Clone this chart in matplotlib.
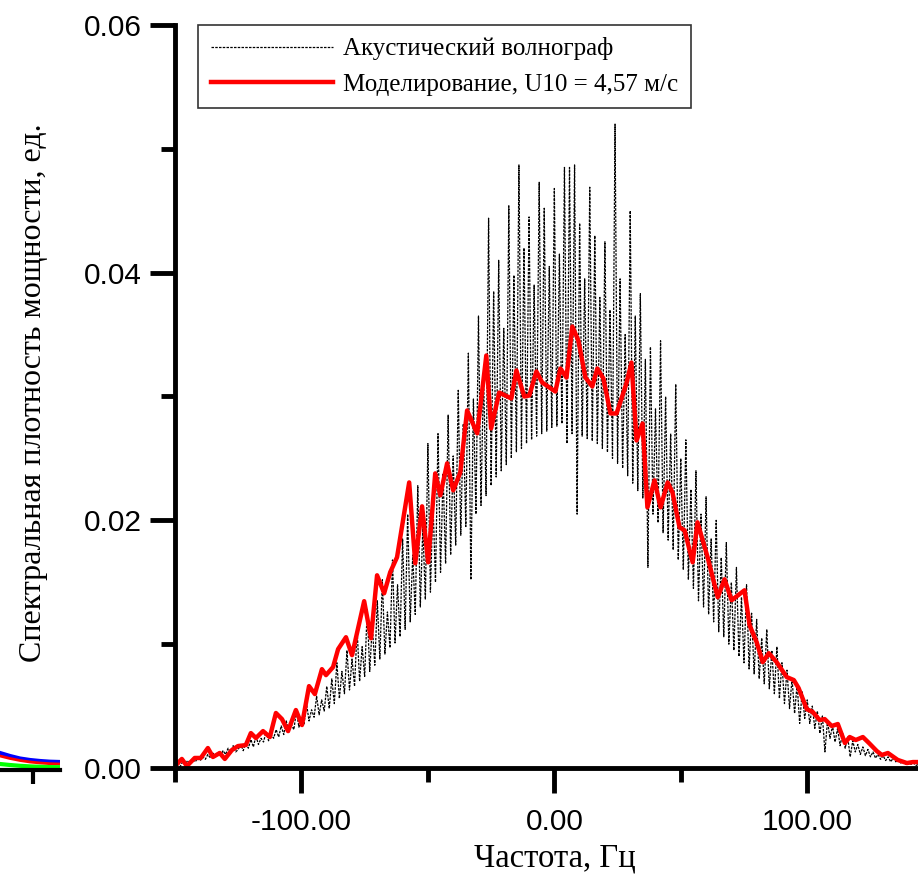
import numpy as np
import matplotlib
matplotlib.use("Agg")
import matplotlib.pyplot as plt
from matplotlib.ticker import FixedLocator

# Modelled spectrum (red line)
model_freq = [-150, -147.3, -145.3, -142.2, -139.8, -137.0, -135.0, -132.3, -130.3, -127.5,
              -125.1, -122.0, -120.0, -118.0, -115.2, -112.5, -110.1, -107.7, -105.3, -102.2,
              -99.8, -97.0, -94.7, -91.9, -90.3, -87.5, -85.5, -82.4, -80.0, -75.2,
              -72.5, -70.1, -67.3, -64.9, -62.2, -57.4, -55.0, -52.3, -49.9, -47.1,
              -45.1, -42.4, -40.0, -37.2, -34.5, -30.5, -26.9, -25.0, -21.8, -17.0,
              -15.0, -11.9, -9.9, -7.1, -4.8, 0.4, 2.4, 4.8, 7.1, 9.5,
              12.3, 15.0, 17.0, 19.4, 22.2, 24.6, 28.5, 30.5, 32.5, 34.9,
              36.8, 39.6, 42.0, 44.8, 46.7, 49.5, 51.5, 54.7, 56.6, 60.6,
              64.6, 67.3, 70.1, 75.2, 77.2, 80.0, 82.4, 84.8, 87.9, 91.9,
              94.7, 96.6, 99.8, 102.2, 104.9, 106.9, 109.7, 112.1, 114.9, 116.8,
              119.2, 122.0, 124.4, 127.5, 129.5, 131.9, 135.8, 139.4, 141.8, 143.8]
model_psd = [0.00016, 0.00073, 0.00016, 0.00081, 0.00081, 0.00161, 0.00089, 0.00121, 0.00073, 0.00145,
             0.00177, 0.00185, 0.00282, 0.00242, 0.00298, 0.00250, 0.00444, 0.00395, 0.00298, 0.00468,
             0.00347, 0.00661, 0.00597, 0.00798, 0.00750, 0.00815, 0.00960, 0.01056, 0.00911, 0.01347,
             0.01048, 0.01556, 0.01411, 0.01581, 0.01702, 0.02306, 0.01653, 0.02113, 0.01661, 0.02379,
             0.02202, 0.02460, 0.02242, 0.02387, 0.02887, 0.02702, 0.03331, 0.02742, 0.03032, 0.02984,
             0.03210, 0.03000, 0.03008, 0.03202, 0.03113, 0.03040, 0.03226, 0.03153, 0.03565, 0.03452,
             0.03153, 0.03081, 0.03226, 0.03145, 0.02863, 0.02863, 0.03105, 0.03274, 0.02645, 0.02782,
             0.02105, 0.02323, 0.02105, 0.02306, 0.02226, 0.01944, 0.01919, 0.01661, 0.01984, 0.01702,
             0.01379, 0.01524, 0.01355, 0.01435, 0.01153, 0.01016, 0.00855, 0.00927, 0.00855, 0.00734,
             0.00710, 0.00645, 0.00476, 0.00452, 0.00387, 0.00395, 0.00339, 0.00355, 0.00202, 0.00250,
             0.00226, 0.00250, 0.00202, 0.00137, 0.00105, 0.00121, 0.00065, 0.00040, 0.00048, 0.00048]

# Acoustic wave gauge spectrum (black dotted), 1 Hz step from -150 to 144
gauge_freq = np.arange(-150, 145)
gauge_psd = [
    0.0002, 0.0004, 0.0001, 0.0005, 0.0003, 0.0006, 0.0004, 0.0007, 0.0005, 0.0008,
    0.0006, 0.0009, 0.0007, 0.0011, 0.0008, 0.0012, 0.0009, 0.0013, 0.0010, 0.0014,
    0.0011, 0.0016, 0.0012, 0.0018, 0.0013, 0.0015, 0.0019, 0.0014, 0.0021, 0.0016,
    0.0023, 0.0017, 0.0026, 0.0019, 0.0024, 0.0021, 0.0029, 0.0022, 0.0027, 0.0024,
    0.0031, 0.0025, 0.0034, 0.0027, 0.0038, 0.0029, 0.0035, 0.0031, 0.0046, 0.0033,
    0.0041, 0.0035, 0.0052, 0.0038, 0.0047, 0.0041, 0.0058, 0.0043, 0.0055, 0.0046,
    0.0066, 0.0048, 0.0072, 0.0052, 0.0085, 0.0056, 0.0078, 0.0060, 0.0095, 0.0063,
    0.0088, 0.0066, 0.0112, 0.0070, 0.0098, 0.0074, 0.0128, 0.0078, 0.0115, 0.0083,
    0.0135, 0.0088, 0.0152, 0.0092, 0.0126, 0.0097, 0.0168, 0.0101, 0.0148, 0.0106,
    0.0185, 0.0112, 0.0205, 0.0118, 0.0172, 0.0124, 0.0228, 0.0130, 0.0195, 0.0136,
    0.0262, 0.0142, 0.0215, 0.0150, 0.0270, 0.0158, 0.0238, 0.0165, 0.0285, 0.0172,
    0.0252, 0.0180, 0.0305, 0.0188, 0.0278, 0.0195, 0.0335, 0.0152, 0.0298, 0.0205,
    0.0365, 0.0212, 0.0318, 0.0220, 0.0444, 0.0228, 0.0385, 0.0235, 0.0410, 0.0240,
    0.0355, 0.0245, 0.0454, 0.0250, 0.0398, 0.0255, 0.0487, 0.0258, 0.0420, 0.0262,
    0.0445, 0.0265, 0.0390, 0.0268, 0.0473, 0.0270, 0.0452, 0.0272, 0.0405, 0.0275,
    0.0468, 0.0276, 0.0415, 0.0278, 0.0485, 0.0262, 0.0485, 0.0270, 0.0487, 0.0205,
    0.0440, 0.0268, 0.0395, 0.0266, 0.0469, 0.0264, 0.0430, 0.0262, 0.0380, 0.0258,
    0.0425, 0.0255, 0.0370, 0.0250, 0.0520, 0.0246, 0.0395, 0.0242, 0.0350, 0.0236,
    0.0450, 0.0230, 0.0365, 0.0224, 0.0383, 0.0218, 0.0330, 0.0162, 0.0340, 0.0205,
    0.0290, 0.0198, 0.0345, 0.0190, 0.0300, 0.0184, 0.0270, 0.0176, 0.0310, 0.0168,
    0.0250, 0.0160, 0.0265, 0.0152, 0.0225, 0.0145, 0.0240, 0.0135, 0.0205, 0.0130,
    0.0219, 0.0124, 0.0185, 0.0118, 0.0200, 0.0110, 0.0170, 0.0106, 0.0182, 0.0100,
    0.0150, 0.0095, 0.0162, 0.0090, 0.0138, 0.0085, 0.0148, 0.0080, 0.0125, 0.0076,
    0.0120, 0.0072, 0.0105, 0.0068, 0.0112, 0.0064, 0.0095, 0.0060, 0.0098, 0.0056,
    0.0085, 0.0052, 0.0079, 0.0048, 0.0072, 0.0044, 0.0068, 0.0036, 0.0062, 0.0040,
    0.0055, 0.0036, 0.0050, 0.0032, 0.0046, 0.0028, 0.0042, 0.0013, 0.0038, 0.0024,
    0.0034, 0.0021, 0.0032, 0.0018, 0.0028, 0.0016, 0.0025, 0.0009, 0.0022, 0.0013,
    0.0019, 0.0011, 0.0017, 0.0010, 0.0015, 0.0009, 0.0013, 0.0008, 0.0011, 0.0007,
    0.0010, 0.0006, 0.0009, 0.0005, 0.0008, 0.0005, 0.0007, 0.0004, 0.0006, 0.0003,
    0.0005, 0.0003, 0.0004, 0.0002, 0.0003]

x_major = [-100, 0, 100]
x_minor = [-150, -50, 50]
x_labels = ["-100.00", "0.00", "100.00"]
y_major = [0.0, 0.02, 0.04, 0.06]
y_minor = [0.01, 0.03, 0.05]
y_labels = ["0.00", "0.02", "0.04", "0.06"]

label_gauge = "Акустический волнограф"
label_model = "Моделирование, U10 = 4,57 м/с"

# cropped fragment of a neighbouring chart at the left edge
frag_x = [0, 10, 20, 30, 40, 50, 60]
frag_blue = [17, 14, 11.5, 10, 9, 8.3, 8]
frag_red = [14, 11.5, 9.5, 8, 7, 6.3, 6]
frag_green = [6, 5, 4.2, 3.6, 3.2, 2.9, 2.8]

serif = "Liberation Serif"
sans = "Liberation Sans"

W, H = 918, 880
fig = plt.figure(figsize=(W / 100, H / 100), dpi=100)

ax = fig.add_axes([175 / W, (H - 768) / H, (W - 175) / W, (768 - 25) / H])
ax.plot(gauge_freq, gauge_psd, color="black", lw=0.9, ls=(0, (2, 1)), label=label_gauge)
ax.plot(model_freq, model_psd, color="#ff0000", lw=3.2, label=label_model)

ax.set_xlim(-150, 143.8)
ax.set_ylim(0, 0.06)

for s in ["top", "right"]:
    ax.spines[s].set_visible(False)
for s in ["left", "bottom"]:
    ax.spines[s].set_linewidth(3.5)

ax.xaxis.set_major_locator(FixedLocator(x_major))
ax.xaxis.set_minor_locator(FixedLocator(x_minor))
ax.set_xticklabels(x_labels)
ax.yaxis.set_major_locator(FixedLocator(y_major))
ax.yaxis.set_minor_locator(FixedLocator(y_minor))
ax.set_yticklabels(y_labels)

ax.tick_params(which="major", direction="out", length=18, width=3.5)
ax.tick_params(which="minor", direction="out", length=10, width=3.5)
ax.tick_params(axis="x", which="major", pad=11)
ax.tick_params(axis="y", which="major", pad=6)
for t in ax.get_xticklabels() + ax.get_yticklabels():
    t.set_fontfamily(sans)
    t.set_fontsize(21.5)

ax.set_xlabel("Частота, Гц", fontfamily=serif, fontsize=23.5, va="center")
ax.xaxis.set_label_coords(0.511, -0.121)
ax.set_ylabel("Спектральная плотность мощности, ед.", fontfamily=serif, fontsize=23, va="center")
ax.yaxis.set_label_coords(-0.191, 0.505)

leg = ax.legend(loc="upper left", bbox_to_anchor=(198 / W, 1 - 25 / H),
                bbox_transform=fig.transFigure, prop={"family": serif, "size": 18},
                handlelength=4.9, handletextpad=0.4, borderpad=0.5, labelspacing=0.5,
                borderaxespad=0, fancybox=False, framealpha=1, edgecolor="#333333")
leg.get_frame().set_linewidth(1.2)

# fragment at left edge
fa = fig.add_axes([0, (H - 770) / H, 60 / W, 30 / H])
fa.plot(frag_x, frag_blue, color="#0000ff", lw=3)
fa.plot(frag_x, frag_red, color="#ff0000", lw=2)
fa.plot(frag_x, frag_green, color="#00ff00", lw=3)
fa.set_xlim(0, 60)
fa.set_ylim(0, 30)
for s in ["top", "right", "left"]:
    fa.spines[s].set_visible(False)
fa.spines["bottom"].set_linewidth(3)
fa.set_xticks([33])
fa.set_xticklabels([])
fa.set_yticks([])
fa.tick_params(axis="x", direction="out", length=10, width=3)
fa.patch.set_alpha(0)

fig.savefig("out.png", dpi=100)
